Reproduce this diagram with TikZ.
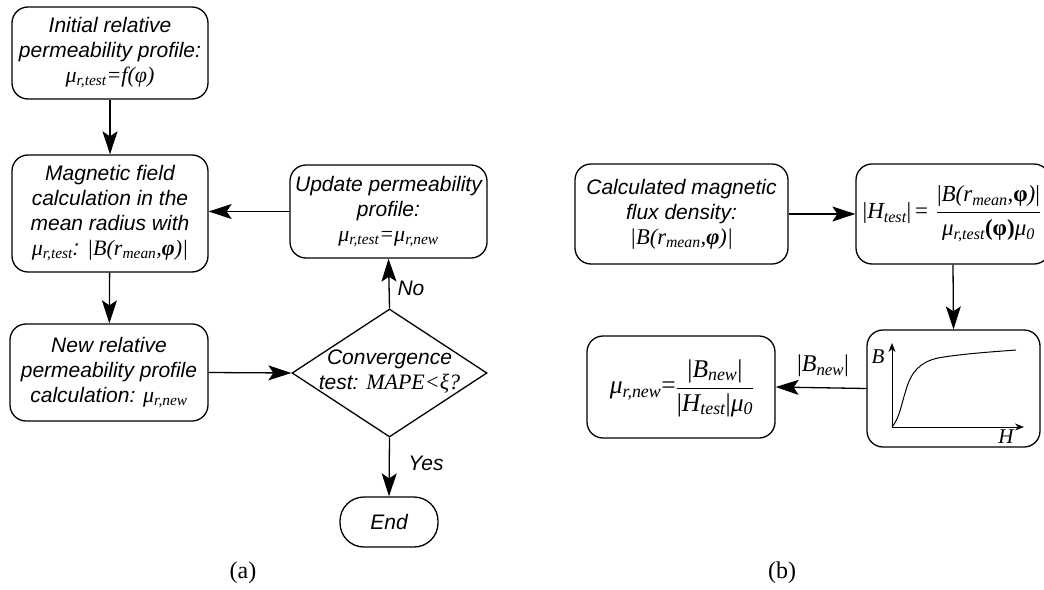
\documentclass[tikz,border=0pt]{standalone}
\usepackage{fontspec}
\setmainfont{Liberation Sans}
\newfontfamily\tnr{Liberation Serif}
\usetikzlibrary{arrows.meta,shapes.geometric}
\newcommand{\vm}[1]{{\tnr\itshape #1}}
\newcommand{\mur}[1]{\vm{μ\textsubscript{r,#1}}}
\newcommand{\Bphi}{{\tnr|\vm{B(r\textsubscript{mean},}\textbf{φ}\vm{)}|}}
\begin{document}
\begin{tikzpicture}[x=1pt,y=-1pt,
  line width=1.3pt,
  arr/.style={-{Stealth[length=23pt,width=15pt,inset=5pt]}},
  box/.style={draw,rounded corners=16pt,align=center,inner sep=0pt,
    font=\fontsize{21}{25}\selectfont\itshape},
  lbl/.style={font=\fontsize{21}{25}\selectfont\itshape},
  fml/.style={font=\fontsize{23}{26}\selectfont\tnr,inner sep=0pt}]
\useasboundingbox (0,0) rectangle (1044,589);
% panel (a)
\node[box,minimum width=196pt,minimum height=92pt] (b1) at (110,53)
  {Initial relative\\permeability profile:\\{\fontsize{22}{26}\selectfont\mur{test}{\tnr=}\vm{f}{\tnr(φ)}}};
\node[box,minimum width=196pt,minimum height=117pt] (b2) at (110,213.5)
  {Magnetic field\\calculation in the\\mean radius with\\{\fontsize{22}{26}\selectfont\mur{test}: \Bphi}};
\node[box,minimum width=198pt,minimum height=97pt] (b3) at (109,372.5)
  {New relative\\permeability profile\\calculation: {\fontsize{22}{26}\selectfont\mur{new}}};
\node[box,minimum width=197pt,minimum height=93pt] (upd) at (388.5,211.5)
  {Update permeability\\profile:\\{\fontsize{22}{26}\selectfont\mur{test}{\tnr=}\mur{new}}};
\node[draw,diamond,minimum width=195pt,minimum height=128pt,inner sep=0pt] (dia) at (389.5,373) {};
\node[lbl,align=center] (diat) at (389.5,372)
  {Convergence\\test: {\fontsize{22}{26}\selectfont\vm{MAPE}{\tnr<ξ?}}};
\node[box,rounded corners=24pt,minimum width=98pt,minimum height=50pt] (end) at (389,522) {End};
\draw[arr] (b1) -- (b2);
\draw[arr] (b2) -- (b3);
\draw[arr] (b3.east) -- (dia.west);
\draw[arr] (dia.north) -- (upd.south);
\draw[arr] (upd.west) -- (b2.east |- upd.west);
\draw[arr] (dia.south) -- (end.north);
\node[lbl] (no) at (411,288) {No};
\node[lbl] (yes) at (426,463) {Yes};
\node[font=\fontsize{24}{28}\selectfont\tnr] (capa) at (243,573) {(a)};
% panel (b)
\node[box,minimum width=213pt,minimum height=100pt] (cmf) at (681.5,214)
  {Calculated magnetic\\flux density:\\{\fontsize{22.5}{26}\selectfont\Bphi}};
\node[box,minimum width=194pt,minimum height=100pt] (ht) at (953,214) {};
\node[fml,anchor=west] (htf) at (862,214)
  {|\vm{H\textsubscript{test}}|\,=\,\,$\displaystyle\frac{\hbox{\Bphi}}{\hbox{\mur{test}\textbf{(φ)}\vm{μ\textsubscript{0}}}}$};
\node[box,minimum width=173pt,minimum height=117pt] (bh) at (953.5,388.5) {};
\node[box,minimum width=188pt,minimum height=102pt] (mu) at (681,387) {};
\node[fml,font=\fontsize{25.5}{28}\selectfont\tnr] (muf) at (682,388)
  {\mur{new}=$\displaystyle\frac{\hbox{|\vm{B\textsubscript{new}}|}}{\hbox{|\vm{H\textsubscript{test}}|\vm{μ\textsubscript{0}}}}$};
\draw[arr] (cmf.east) -- (ht.west);
\draw[arr] (ht.south) -- (bh.north);
\draw[arr] (bh.west) -- (mu.east);
\node[font=\fontsize{24}{28}\selectfont\tnr] (bnew) at (823,366) {|\vm{B\textsubscript{new}}|};
\node[font=\fontsize{24}{28}\selectfont\tnr] (capb) at (782,573) {(b)};
% B-H curve
\coordinate (o) at (892,427);
\coordinate (bt) at (892,343);
\coordinate (hr) at (1024,427);
\draw[line width=1pt,-{Stealth[length=9pt,width=7pt]}] (o) -- (bt);
\draw[line width=1pt,-{Stealth[length=9pt,width=7pt]}] (o) -- (hr);
\node[font=\fontsize{21}{24}\selectfont\tnr\itshape] (bl) at (878,357) {B};
\node[font=\fontsize{21}{24}\selectfont\tnr\itshape] (hl) at (1006,437) {H};
\draw[line width=1pt] (o) .. controls (900,417) and (901,405) .. (906,390)
  .. controls (911,372) and (920,362) .. (938,358)
  .. controls (960,354) and (990,352) .. (1016,350);
\end{tikzpicture}
\end{document}
